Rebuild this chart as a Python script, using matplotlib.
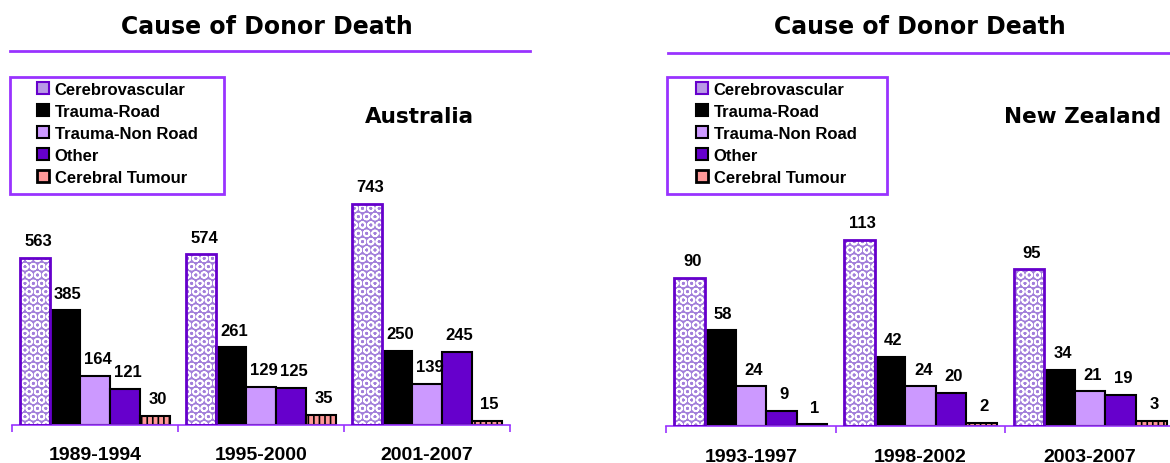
import numpy as np
import matplotlib.pyplot as plt
from matplotlib.patches import Patch, Rectangle
from matplotlib.lines import Line2D

# data
causes = ["Cerebrovascular", "Trauma-Road", "Trauma-Non Road", "Other", "Cerebral Tumour"]

au_periods = ["1989-1994", "1995-2000", "2001-2007"]
au_cerebro = [563, 574, 743]
au_road = [385, 261, 250]
au_nonroad = [164, 129, 139]
au_other = [121, 125, 245]
au_tumour = [30, 35, 15]

nz_periods = ["1993-1997", "1998-2002", "2003-2007"]
nz_cerebro = [90, 113, 95]
nz_road = [58, 42, 34]
nz_nonroad = [24, 24, 21]
nz_other = [9, 20, 19]
nz_tumour = [1, 2, 3]

plt.rcParams['font.family'] = ['Liberation Sans', 'DejaVu Sans']
plt.rcParams['hatch.linewidth'] = 1.2

PURPLE = '#6600CC'
LINE = '#9933FF'
styles = [
    dict(facecolor='#A27FDA', edgecolor='white', hatch='OO', linewidth=0),
    dict(facecolor='black', edgecolor='black', linewidth=1.5),
    dict(facecolor='#CC99FF', edgecolor='black', linewidth=1.5),
    dict(facecolor=PURPLE, edgecolor='black', linewidth=1.5),
    dict(facecolor='#FF9999', edgecolor='black', hatch='|||', linewidth=1.5),
]

W, H = 1170, 464
fig = plt.figure(figsize=(W / 100, H / 100), dpi=100)


def px_box(x0, y_base, x1, y_top):
    return [x0 / W, 1 - y_base / H, (x1 - x0) / W, (y_base - y_top) / H]


def draw_panel(rect, ymax, periods, series, country, cx, title_x, line_x, line_y,
               leg_box, leg_anchor, label_pad):
    ax = fig.add_axes(rect)
    x = np.arange(len(periods)) + 0.5
    bw = 0.18
    for i, vals in enumerate(series):
        pos = x + (i - 2) * bw
        ax.bar(pos, vals, bw, zorder=2, **styles[i])
        if i == 0:
            ax.bar(pos, vals, bw, facecolor='none', edgecolor=PURPLE,
                   linewidth=2, zorder=3)
        for p, v in zip(pos, vals):
            ax.annotate(str(v), (p, v), xytext=(2, 7), textcoords='offset points',
                        ha='center', va='bottom', fontsize=12, fontweight='bold')
    ax.set_xlim(0, 3)
    ax.set_ylim(0, ymax)
    for s in ['top', 'right', 'left']:
        ax.spines[s].set_visible(False)
    ax.spines['bottom'].set_color(LINE)
    ax.spines['bottom'].set_linewidth(1.2)
    ax.set_yticks([])
    ax.set_xticks([0, 1, 2, 3])
    ax.set_xticklabels([])
    ax.tick_params(axis='x', which='major', direction='out', length=5,
                   width=1.2, color=LINE)
    ax.set_xticks(x, minor=True)
    ax.set_xticklabels(periods, minor=True, fontsize=14, fontweight='bold')
    ax.tick_params(axis='x', which='minor', length=0, pad=label_pad)

    fig.text(title_x / W, 1 - 27 / H, "Cause of Donor Death", ha='center',
             va='center', fontsize=17, fontweight='bold', family='DejaVu Sans')
    fig.add_artist(Line2D([line_x[0] / W, line_x[1] / W], [1 - line_y / H] * 2,
                          color=LINE, linewidth=2))
    fig.text(cx / W, 1 - 117 / H, country, ha='left', va='center',
             fontsize=15.5, fontweight='bold', family='DejaVu Sans')

    bx0, by0, bx1, by1 = leg_box
    fig.add_artist(Rectangle((bx0 / W, 1 - by1 / H), (bx1 - bx0) / W, (by1 - by0) / H,
                             transform=fig.transFigure, fill=False,
                             edgecolor=LINE, linewidth=2))
    handles = []
    for i in range(5):
        st = dict(styles[i])
        if i == 0:
            st = dict(facecolor='#B89AE6', edgecolor=PURPLE, linewidth=1.5)
        elif i == 4:
            st = dict(facecolor='#FF9999', edgecolor='black', linewidth=2)
        handles.append(Patch(**st))
    fig.legend(handles, causes, loc='upper left',
               bbox_to_anchor=(leg_anchor[0] / W, 1 - leg_anchor[1] / H),
               frameon=False, handlelength=0.72, handleheight=0.72,
               handletextpad=0.35, labelspacing=0.42, borderpad=0, borderaxespad=0,
               prop=dict(weight='bold', size=12))
    return ax


draw_panel(px_box(12, 426, 510, 60), 366 / 0.2975, au_periods,
           [au_cerebro, au_road, au_nonroad, au_other, au_tumour],
           "Australia", 365, 267, (10, 530), 52, (10, 78, 224, 195), (37, 83), 15)

draw_panel(px_box(666, 427, 1175, 60), 367 / 1.65, nz_periods,
           [nz_cerebro, nz_road, nz_nonroad, nz_other, nz_tumour],
           "New Zealand", 1004, 920, (668, 1170), 54, (667, 78, 887, 195), (696, 83), 16)

fig.savefig("out.png", dpi=100)
